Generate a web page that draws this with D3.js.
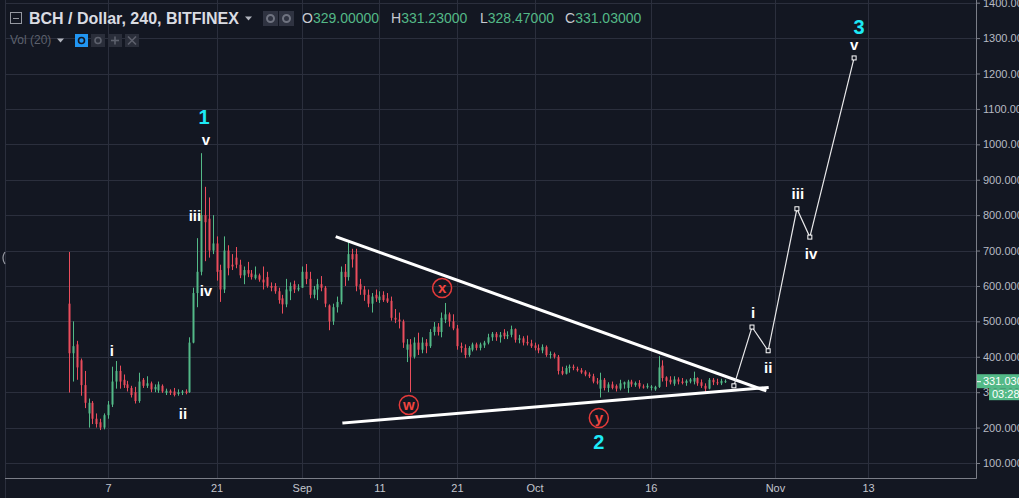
<!DOCTYPE html>
<html>
<head>
<meta charset="utf-8">
<script src="https://cdn.jsdelivr.net/npm/d3@7"></script>
<style>
  html, body { margin: 0; padding: 0; background: #131722; overflow: hidden; }
  svg { display: block; font-family: "Liberation Sans", Arial, sans-serif; }
</style>
</head>
<body>
<svg id="chart" width="1019" height="498"></svg>
<script>
// 12h candles [open, high, low, close]
const firstCandle = "2017-08-02T00:00Z";
const candleHours = 12;

const augCandles = [
  [550,696,299,410],[410,500,330,430],[435,445,335,370],[390,395,290,320],[320,360,255,270],
  [240,282,200,270],[270,275,210,225],[225,240,200,210],[215,225,193,200],[200,240,195,235],
  [235,275,225,265],[265,372,258,330],[330,388,310,360],[360,375,310,330],[335,350,312,320],
  [322,332,302,312],[312,318,285,292],[300,315,268,275],[275,355,270,330],[335,340,312,318],
  [318,345,312,325],[325,330,300,308],[308,322,300,315],[305,330,298,322],[318,322,298,302],
  [298,310,292,304],[304,308,292,298],[302,312,288,292],[295,308,290,300],[298,306,292,302],
  [302,308,294,298],[300,455,298,440],[440,595,438,580],[580,735,540,640],[640,975,630,800],
  [800,880,670,780],[790,850,680,700],[700,800,690,720],[720,740,615,640],[645,660,555,590],
  [590,740,580,700],[700,715,630,650],[660,690,645,655],[680,710,650,660],[660,674,622,630],
  [630,655,605,645],[645,668,625,635],[635,645,618,625],[622,655,618,632],[630,635,612,618],
  [618,655,590,610],[625,640,595,600],[600,610,585,595],[600,608,578,585],[585,595,550,560],
  [565,575,522,548],[548,620,540,590],[585,610,560,600],[605,615,580,590],[590,605,585,595]
];

const sepCandles = [
  [595,655,595,640],[640,662,605,620],[620,640,565,575],[575,600,565,590],[590,620,560,605],
  [605,628,585,595],[595,600,540,550],[545,548,475,500],[500,550,490,540],[540,570,525,555],
  [555,655,548,640],[640,662,600,625],[625,725,615,690],[690,705,652,675],[690,705,585,600],
  [605,620,575,590],[590,600,558,575],[575,590,540,550],[550,580,525,570],[575,590,555,565],
  [560,585,552,570],[575,585,555,560],[565,580,552,556],[558,570,502,510],[510,535,495,505],
  [505,525,480,500],[500,505,425,440],[420,450,385,435],[435,450,300,400],[400,455,395,440],
  [440,468,405,420],[420,455,410,440],[440,450,410,430],[430,478,425,470],[470,498,460,485],
  [485,495,460,470],[470,525,455,510],[505,552,495,520],[520,525,485,500],[500,520,475,480],
  [480,490,420,430],[430,440,412,425],[425,435,396,405],[405,430,400,425],[420,440,415,435],
  [435,440,418,425],[425,440,418,435],[432,445,425,440],[440,465,435,455],[455,470,445,465],
  [465,470,445,455],[455,470,440,462],[468,478,450,458],[458,472,450,462],[462,488,455,478],
  [478,480,440,448],[448,462,438,452],[452,458,432,440],[442,460,432,438],[438,448,425,430]
];

const octCandles = [
  [432,440,418,425],[425,435,410,418],[418,435,410,428],[428,432,400,405],[405,415,395,408],
  [408,412,395,400],[400,405,350,360],[360,372,348,352],[352,375,350,368],[368,378,355,372],
  [372,378,362,368],[366,372,358,362],[362,368,352,356],[358,362,345,350],[350,356,340,345],
  [345,352,325,330],[330,340,322,328],[310,355,285,335],[335,340,305,312],[312,328,300,322],
  [322,330,308,312],[318,322,302,310],[310,335,305,325],[322,330,310,328],[312,335,298,330],
  [330,335,315,322],[320,330,315,326],[326,334,310,316],[316,322,310,314],[314,325,310,318],
  [312,320,305,316],[308,318,304,315],[315,402,312,370],[375,390,330,340],[342,345,315,332],
  [335,345,322,328],[324,345,318,336],[336,342,322,330],[330,340,322,326],[326,336,318,332],
  [330,340,325,336],[330,358,322,340],[340,342,318,325],[328,336,312,318],[318,325,297,310],
  [310,340,308,335],[335,340,320,328],[328,338,320,325],[325,338,320,332],[330,336,326,331.03]
];

// axes
const priceTicks = [100,200,300,400,500,600,700,800,900,1000,1100,1200,1300,1400];
const dateTicks = ["2017-08-07","2017-08-21","2017-09-01","2017-09-11","2017-09-21","2017-10-01","2017-10-16","2017-11-01","2017-11-13"];
const dateTickLabels = ["7","21","Sep","11","21","Oct","16","Nov","13"];

// triangle trend lines [start, end]
const upperLine = [{t:"2017-09-05T13:00Z", p:738}, {t:"2017-10-30T17:00Z", p:305}];
const lowerLine = [{t:"2017-09-06T10:00Z", p:213}, {t:"2017-10-31T00:00Z", p:313}];

// projected wave 3 path
const projection = [
  {t:"2017-10-26T17:00Z", p:318},
  {t:"2017-10-29T01:00Z", p:484},
  {t:"2017-10-31T03:00Z", p:417},
  {t:"2017-11-03T20:00Z", p:818},
  {t:"2017-11-05T12:00Z", p:738},
  {t:"2017-11-11T05:00Z", p:1244}
];

// wave labels
const romanLabels = [
  {t:"2017-08-07T12:00Z", p:419, s:"i"},
  {t:"2017-08-16T16:00Z", p:241, s:"ii"},
  {t:"2017-08-18T05:00Z", p:800, s:"iii"},
  {t:"2017-08-19T15:00Z", p:586, s:"iv"},
  {t:"2017-08-19T15:00Z", p:1015, s:"v"},
  {t:"2017-10-29T04:00Z", p:524, s:"i"},
  {t:"2017-10-31T03:00Z", p:371, s:"ii"},
  {t:"2017-11-03T23:00Z", p:860, s:"iii"},
  {t:"2017-11-05T16:00Z", p:693, s:"iv"},
  {t:"2017-11-11T05:00Z", p:1283, s:"v"}
];
const waveNumbers = [
  {t:"2017-08-19T09:00Z", p:1077, s:"1"},
  {t:"2017-10-09T07:00Z", p:160, s:"2"},
  {t:"2017-11-11T20:00Z", p:1332, s:"3"}
];
const circledLabels = [
  {t:"2017-09-14T19:00Z", p:264, s:"w"},
  {t:"2017-09-19T02:00Z", p:594, s:"x"},
  {t:"2017-10-09T07:00Z", p:227, s:"y"}
];

const lastPrice = 331.03;

const W = 1019, H = 498;
const plotLeft = 5, plotRight = 976, plotBottom = 478;
const upColor = "#53b987", downColor = "#eb4d5c";

const candles = augCandles.concat(sepCandles, octCandles).map((c, i) => ({
  t: new Date(Date.parse(firstCandle) + i * candleHours * 3600e3),
  o: c[0], h: c[1], l: c[2], c: c[3]
}));

const x = d3.scaleUtc()
  .domain([new Date("2017-08-07T00:00Z"), new Date("2017-11-13T00:00Z")])
  .range([108, 868]);
const y = d3.scaleLinear().domain([100, 1400]).range([463, 2.7]);
const px = d => x(new Date(d.t));
const py = d => y(d.p);

const svg = d3.select("#chart");
svg.append("rect").attr("width", W).attr("height", H).attr("fill", "#131722");

svg.append("clipPath").attr("id", "plotClip")
  .append("rect").attr("x", plotLeft).attr("y", 0)
  .attr("width", plotRight - plotLeft).attr("height", plotBottom);

// grid
const grid = svg.append("g").attr("stroke", "#2b2f3d").attr("stroke-width", 1);
grid.selectAll("line.h").data(priceTicks).join("line").attr("class", "h")
  .attr("x1", plotLeft).attr("x2", plotRight)
  .attr("y1", d => Math.round(y(d)) + 0.5).attr("y2", d => Math.round(y(d)) + 0.5);
grid.selectAll("line.v").data(dateTicks).join("line").attr("class", "v")
  .attr("y1", 0).attr("y2", plotBottom)
  .attr("x1", d => Math.round(x(new Date(d))) + 0.5).attr("x2", d => Math.round(x(new Date(d))) + 0.5);

svg.append("line").attr("x1", plotLeft + 0.5).attr("x2", plotLeft + 0.5)
  .attr("y1", 0).attr("y2", H).attr("stroke", "#2b2f3d");
// collapse handle on the left edge
svg.append("path").attr("d", "M5,252 q-4,6 0,12").attr("fill", "none")
  .attr("stroke", "#9598a1").attr("stroke-width", 1.2);

const plot = svg.append("g").attr("clip-path", "url(#plotClip)");

// candles
const cg = plot.append("g");
const bodyW = 2;
const cs = cg.selectAll("g").data(candles).join("g")
  .attr("fill", d => d.c >= d.o ? upColor : downColor)
  .attr("stroke", d => d.c >= d.o ? upColor : downColor);
cs.append("line")
  .attr("x1", d => Math.round(x(d.t)) + 0.5).attr("x2", d => Math.round(x(d.t)) + 0.5)
  .attr("y1", d => y(d.h)).attr("y2", d => y(d.l)).attr("stroke-width", 1);
cs.append("rect")
  .attr("stroke", "none")
  .attr("x", d => Math.round(x(d.t)) - bodyW / 2 + 0.5)
  .attr("width", bodyW)
  .attr("y", d => y(Math.max(d.o, d.c)))
  .attr("height", d => Math.max(1, y(Math.min(d.o, d.c)) - y(Math.max(d.o, d.c))));

// trend lines
plot.selectAll("line.trend").data([upperLine, lowerLine]).join("line")
  .attr("class", "trend")
  .attr("x1", d => px(d[0])).attr("y1", d => py(d[0]))
  .attr("x2", d => px(d[1])).attr("y2", d => py(d[1]))
  .attr("stroke", "#ffffff").attr("stroke-width", 3).attr("stroke-linecap", "square");

// projection
plot.append("path").datum(projection)
  .attr("d", d3.line().x(px).y(py))
  .attr("fill", "none").attr("stroke", "#e8e8ea").attr("stroke-width", 1.2);
plot.selectAll("rect.pt").data(projection).join("rect").attr("class", "pt")
  .attr("x", d => px(d) - 2).attr("y", d => py(d) - 2)
  .attr("width", 4).attr("height", 4)
  .attr("fill", "#131722").attr("stroke", "#ffffff").attr("stroke-width", 1);

// labels
plot.selectAll("text.roman").data(romanLabels).join("text").attr("class", "roman")
  .attr("x", px).attr("y", py)
  .attr("text-anchor", "middle").attr("dominant-baseline", "central")
  .attr("fill", "#ffffff").attr("font-weight", "bold").attr("font-size", 15)
  .text(d => d.s);

plot.selectAll("text.wave").data(waveNumbers).join("text").attr("class", "wave")
  .attr("x", px).attr("y", py)
  .attr("text-anchor", "middle").attr("dominant-baseline", "central")
  .attr("fill", "#1de9f6").attr("font-weight", "bold").attr("font-size", 20)
  .text(d => d.s);

const cl = plot.selectAll("g.circ").data(circledLabels).join("g").attr("class", "circ")
  .attr("transform", d => `translate(${px(d)},${py(d)})`);
cl.append("circle").attr("r", 9.5).attr("fill", "none")
  .attr("stroke", "#e53b3b").attr("stroke-width", 1.5);
cl.append("text").attr("text-anchor", "middle").attr("dominant-baseline", "central")
  .attr("y", -0.5)
  .attr("fill", "#f0453f").attr("font-weight", "bold").attr("font-size", 15)
  .text(d => d.s);

// price axis
const yAxis = svg.append("g")
  .attr("transform", `translate(${plotRight},0)`)
  .call(d3.axisRight(y).tickValues(priceTicks).tickSize(4).tickPadding(3)
    .tickFormat(d3.format(".5f")));
yAxis.select(".domain").remove();
yAxis.selectAll("line").attr("stroke", "#7b7e88");
yAxis.selectAll("text").attr("fill", "#b8bbc4").attr("font-size", 11)
  .attr("font-family", "\"Liberation Sans\", Arial, sans-serif");
svg.append("line").attr("x1", plotRight + 0.5).attr("x2", plotRight + 0.5)
  .attr("y1", 0).attr("y2", plotBottom + 0.5).attr("stroke", "#7b7e88");

// time axis
const xAxis = svg.append("g")
  .attr("transform", `translate(0,${plotBottom})`)
  .call(d3.axisBottom(x).tickValues(dateTicks.map(d => new Date(d)))
    .tickSize(0).tickPadding(6).tickFormat((d, i) => dateTickLabels[i]));
xAxis.select(".domain").remove();
xAxis.selectAll("text").attr("fill", "#c3c6ce").attr("font-size", 11)
  .attr("font-family", "\"Liberation Sans\", Arial, sans-serif");
svg.append("line").attr("x1", plotLeft).attr("x2", plotRight + 0.5)
  .attr("y1", plotBottom + 0.5).attr("y2", plotBottom + 0.5).attr("stroke", "#7b7e88");

// last price tag + countdown
const ly = y(lastPrice);
svg.append("rect").attr("x", plotRight + 1).attr("y", ly - 7).attr("width", 60).attr("height", 14)
  .attr("fill", upColor);
svg.append("line").attr("x1", plotRight + 1).attr("x2", plotRight + 5)
  .attr("y1", ly + 0.5).attr("y2", ly + 0.5).attr("stroke", "#ffffff");
svg.append("text").attr("x", plotRight + 7).attr("y", ly).attr("dominant-baseline", "central")
  .attr("fill", "#ffffff").attr("font-size", 11).text(d3.format(".5f")(lastPrice));
svg.append("rect").attr("x", 989).attr("y", ly + 7).attr("width", 40).attr("height", 12)
  .attr("fill", upColor);
svg.append("text").attr("x", 992).attr("y", ly + 13).attr("dominant-baseline", "central")
  .attr("fill", "#ffffff").attr("font-size", 11).text("03:28");

// legend header
const hdr = svg.append("g");
hdr.append("rect").attr("x", 10.5).attr("y", 12.5).attr("width", 11).attr("height", 11)
  .attr("fill", "none").attr("stroke", "#9598a1");
hdr.append("line").attr("x1", 13).attr("x2", 19).attr("y1", 18.5).attr("y2", 18.5).attr("stroke", "#9598a1");
hdr.append("text").attr("x", 29).attr("y", 18).attr("dominant-baseline", "central")
  .attr("fill", "#dadce2").attr("font-weight", "bold").attr("font-size", 16)
  .text("BCH / Dollar, 240, BITFINEX");
hdr.append("path").attr("d", "M245,16.5 l7,0 l-3.5,4 z").attr("fill", "#b2b5be");
[263, 279].forEach(bx => {
  hdr.append("rect").attr("x", bx).attr("y", 11).attr("width", 15).attr("height", 15).attr("fill", "#2f3341");
  hdr.append("circle").attr("cx", bx + 7.5).attr("cy", 18.5).attr("r", 3.5)
    .attr("fill", "none").attr("stroke", "#6f7380").attr("stroke-width", 2);
});
const ohlc = [["O", "329.00000", 302], ["H", "331.23000", 391], ["L", "328.47000", 480], ["C", "331.03000", 565]];
ohlc.forEach(([k, v, tx]) => {
  const t = hdr.append("text").attr("x", tx).attr("y", 18).attr("dominant-baseline", "central")
    .attr("font-size", 14);
  t.append("tspan").attr("fill", "#c8cad1").text(k);
  t.append("tspan").attr("fill", upColor).text(v);
});
hdr.append("text").attr("x", 10).attr("y", 40).attr("dominant-baseline", "central")
  .attr("fill", "#5d616d").attr("font-size", 12).text("Vol (20)");
hdr.append("path").attr("d", "M57,38.5 l7,0 l-3.5,4 z").attr("fill", "#b2b5be");
hdr.append("rect").attr("x", 75).attr("y", 34).attr("width", 13).attr("height", 13).attr("fill", "#2196f3");
hdr.append("circle").attr("cx", 81.5).attr("cy", 40.5).attr("r", 3)
  .attr("fill", "none").attr("stroke", "#131722").attr("stroke-width", 1.6);
[91, 108, 125].forEach((bx, i) => {
  hdr.append("rect").attr("x", bx).attr("y", 34).attr("width", 14).attr("height", 13).attr("fill", "#2a2e3a");
  const g = hdr.append("g").attr("stroke", "#5d616d").attr("stroke-width", 1.6).attr("fill", "none");
  if (i === 0) g.append("circle").attr("cx", bx + 7).attr("cy", 40.5).attr("r", 3);
  if (i === 1) { g.append("line").attr("x1", bx + 3).attr("x2", bx + 11).attr("y1", 40.5).attr("y2", 40.5);
                 g.append("line").attr("x1", bx + 7).attr("x2", bx + 7).attr("y1", 36.5).attr("y2", 44.5); }
  if (i === 2) { g.append("line").attr("x1", bx + 3).attr("x2", bx + 11).attr("y1", 36.5).attr("y2", 44.5);
                 g.append("line").attr("x1", bx + 11).attr("x2", bx + 3).attr("y1", 36.5).attr("y2", 44.5); }
});
</script>
</body>
</html>
